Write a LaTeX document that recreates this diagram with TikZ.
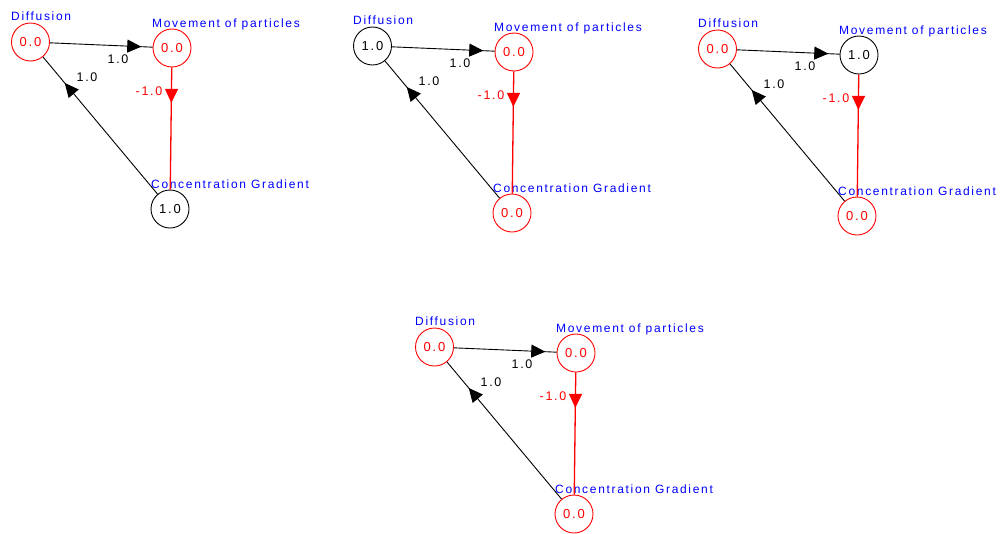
\documentclass[tikz,border=0pt]{standalone}
\usepackage{fontspec}
\setmainfont{Liberation Sans}[LetterSpace=14]
\usetikzlibrary{arrows.meta,decorations.markings}
\definecolor{nodered}{RGB}{255,0,0}
\definecolor{lblblue}{RGB}{0,0,255}
\tikzset{
  circ/.style={circle,draw,minimum size=38pt,inner sep=0pt,font=\fontsize{13}{13}\selectfont,line width=0.9pt},
  zero/.style={circ,draw=nodered,text=nodered},
  one/.style={circ,draw=black,text=black},
  lbl/.style={text=lblblue,font=\fontsize{12}{12}\selectfont,inner sep=0pt,anchor=base west},
  elbl/.style={font=\fontsize{12.5}{12.5}\selectfont,inner sep=0pt},
  edgeblack/.style={draw=black,line width=0.9pt},
  edgered/.style={draw=nodered,line width=1.3pt},
  markat/.style={postaction={decorate},decoration={markings,mark=at position #1 with {\arrow{Triangle[length=14pt,width=13pt]}}}},
}
\newcommand{\drawpanel}[9]{%
  \begin{scope}[shift={(#1,#2)}]
    \node[#4] (#3d) at (30.5,42) {#5};
    \node[#6] (#3m) at (172,48) {#7};
    \node[#8] (#3c) at (170,209) {#9};
    \node[lbl] (#3dl) at (11,20) {Diffusion};
    \node[lbl] (#3ml) at (152,27) {Movement of particles};
    \node[lbl] (#3cl) at (151,188) {Concentration Gradient};
    \draw[edgeblack,markat=0.89] (#3d) -- (#3m);
    \draw[edgeblack,markat=0.81] (#3c) -- (#3d);
    \draw[edgered,markat=0.29] (#3m) -- (#3c);
    \node[elbl] (#3e1) at (118,59) {1.0};
    \node[elbl] (#3e2) at (87,77) {1.0};
    \node[elbl,text=nodered] (#3e3) at (149,91) {-1.0};
  \end{scope}}
\begin{document}
\begin{tikzpicture}[x=1pt,y=-1pt]
\useasboundingbox (0,0) rectangle (1000,533);
\drawpanel{0}{0}{a}{zero}{0.0}{zero}{0.0}{one}{1.0}
\drawpanel{342}{4}{b}{one}{1.0}{zero}{0.0}{zero}{0.0}
\drawpanel{687}{7}{c}{zero}{0.0}{one}{1.0}{zero}{0.0}
\drawpanel{404}{305}{e}{zero}{0.0}{zero}{0.0}{zero}{0.0}
\end{tikzpicture}
\end{document}
